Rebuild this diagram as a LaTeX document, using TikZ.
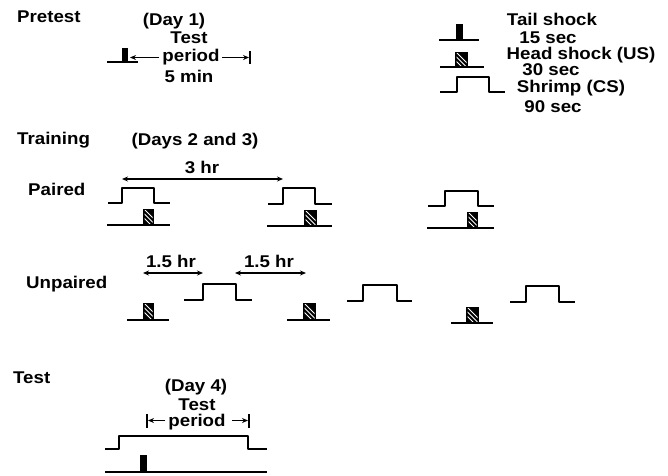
\documentclass[tikz,border=0pt]{standalone}
\usepackage{fontspec}
\setmainfont{Liberation Sans}[FakeStretch=1.1]
\usetikzlibrary{arrows.meta}
\begin{document}
\begin{tikzpicture}[x=1pt,y=-1pt,
  lbl/.style={font=\fontsize{17}{19}\selectfont\bfseries, inner sep=0pt, anchor=base},
  lblw/.style={lbl, anchor=base west},
  trace/.style={line width=1.8pt, line join=round, line cap=butt},
  dimarrow/.style={line width=1.3pt, {Stealth[length=6pt,width=5pt]}-{Stealth[length=6pt,width=5pt]}},
  onearrow/.style={line width=1.3pt, -{Stealth[length=6pt,width=5pt]}},
  endbar/.style={line width=1.5pt},
  headshock/.pic={
    \fill[black] (0,0) rectangle (\pgfkeysvalueof{/tikz/hw},-\pgfkeysvalueof{/tikz/hh});
    \begin{scope}
      \clip (1.5,-1.5) rectangle (\pgfkeysvalueof{/tikz/hw}-1.5,-\pgfkeysvalueof{/tikz/hh}+1.5);
      \foreach \s in {-9,-4.5,0} {
        \draw[white, line width=0.8pt] (\s+1,-\pgfkeysvalueof{/tikz/hh}) -- (\s+\pgfkeysvalueof{/tikz/hh}+1,0);
      }
    \end{scope}
  },
  hw/.initial=12, hh/.initial=15,
]
\useasboundingbox (0,0) rectangle (668,475);

% ---------------- Pretest ----------------
\node[lblw] (pretest) at (17,22) {Pretest};
\node[lbl] (day1) at (174,25) {(Day 1)};
\node[lbl] (ptest) at (189,43) {Test};
\node[lbl] (pperiod) at (191,61) {period};
\node[lbl] (p5min) at (189,82) {5 min};
\draw[trace] (107,62) -- (138,62);
\fill (122,62) rectangle (128,48);
\coordinate (pa1) at (130,57.5);
\coordinate (pa2) at (159,57.5);
\coordinate (pb1) at (222,57.5);
\coordinate (pb2) at (249,57.5);
\draw[onearrow] (pa2) -- (pa1);
\draw[onearrow] (pb1) -- (pb2);
\coordinate (pbt) at (250,51);
\coordinate (pbb) at (250,64);
\draw[endbar] (pbt) -- (pbb);

% ---------------- Legend ----------------
\node[lbl] (tail) at (552,25) {Tail shock};
\node[lbl] (t15) at (548,43) {15 sec};
\node[lbl] (head) at (581,59) {Head shock (US)};
\node[lbl] (h30) at (551,75) {30 sec};
\node[lbl] (shrimp) at (571,92) {Shrimp (CS)};
\node[lbl] (s90) at (553,112) {90 sec};
\draw[trace] (439,40) -- (479,40);
\fill (456,40) rectangle (463,24);
\draw[trace] (440,67) -- (484,67);
\pic[hw=13, hh=15] at (455,67) {headshock};
\draw[trace] (440,92) -- (457,92) -- (457,77) -- (489,77) -- (489,92) -- (505,92);

% ---------------- Training ----------------
\node[lblw] (training) at (17,144) {Training};
\node[lbl] (days23) at (195,145) {(Days 2 and 3)};
\node[lbl] (hr3) at (202,173) {3 hr};
\node[lblw] (paired) at (28,195) {Paired};
\coordinate (a3l) at (122,179);
\coordinate (a3r) at (283,179);
\draw[dimarrow] (a3l) -- (a3r);

\draw[trace] (108,203) -- (122,203) -- (122,188) -- (154,188) -- (154,203) -- (170,203);
\draw[trace] (107,225) -- (170,225);
\pic[hw=11, hh=16] at (143,225) {headshock};

\draw[trace] (268,204) -- (283,204) -- (283,188) -- (315,188) -- (315,204) -- (332,204);
\draw[trace] (267,226) -- (332,226);
\pic[hw=13, hh=16] at (304,226) {headshock};

\draw[trace] (428,206) -- (445,206) -- (445,191) -- (478,191) -- (478,206) -- (494,206);
\draw[trace] (427,228) -- (494,228);
\pic[hw=11, hh=16] at (467,228) {headshock};

% ---------------- Unpaired ----------------
\node[lblw] (unpaired) at (26,288) {Unpaired};
\node[lbl] (hr15a) at (171,267) {1.5 hr};
\node[lbl] (hr15b) at (269,267) {1.5 hr};
\coordinate (u1l) at (143,273);
\coordinate (u1r) at (203,273);
\coordinate (u2l) at (235,273);
\coordinate (u2r) at (306,273);
\draw[dimarrow] (u1l) -- (u1r);
\draw[dimarrow] (u2l) -- (u2r);

\draw[trace] (127,320) -- (169,320);
\pic[hw=11, hh=17] at (143,320) {headshock};
\draw[trace] (184,300) -- (203,300) -- (203,284) -- (236,284) -- (236,300) -- (252,300);
\draw[trace] (287,320) -- (330,320);
\pic[hw=13, hh=17] at (303,320) {headshock};
\draw[trace] (347,301) -- (363,301) -- (363,285) -- (397,285) -- (397,301) -- (412,301);
\draw[trace] (451,323) -- (493,323);
\pic[hw=13, hh=16] at (466,323) {headshock};
\draw[trace] (510,302) -- (526,302) -- (526,286) -- (559,286) -- (559,302) -- (575,302);

% ---------------- Test ----------------
\node[lblw] (test) at (13,383) {Test};
\node[lbl] (day4) at (196,391) {(Day 4)};
\node[lbl] (ttest) at (197,410) {Test};
\node[lbl] (tperiod) at (197,426) {period};
\coordinate (tlt) at (147,414);
\coordinate (tlb) at (147,428);
\coordinate (trt) at (249,414);
\coordinate (trb) at (249,428);
\draw[endbar] (tlt) -- (tlb);
\draw[endbar] (trt) -- (trb);
\coordinate (tl1) at (148,420.5);
\coordinate (tl2) at (165,420.5);
\coordinate (tr1) at (232,420.5);
\coordinate (tr2) at (248,420.5);
\draw[onearrow] (tl2) -- (tl1);
\draw[onearrow] (tr1) -- (tr2);

\draw[trace] (105,449) -- (119,449) -- (119,436) -- (248,436) -- (248,449) -- (267,449);
\draw[trace] (105,472) -- (267,472);
\fill (140,472) rectangle (147,455);
\end{tikzpicture}
\end{document}
